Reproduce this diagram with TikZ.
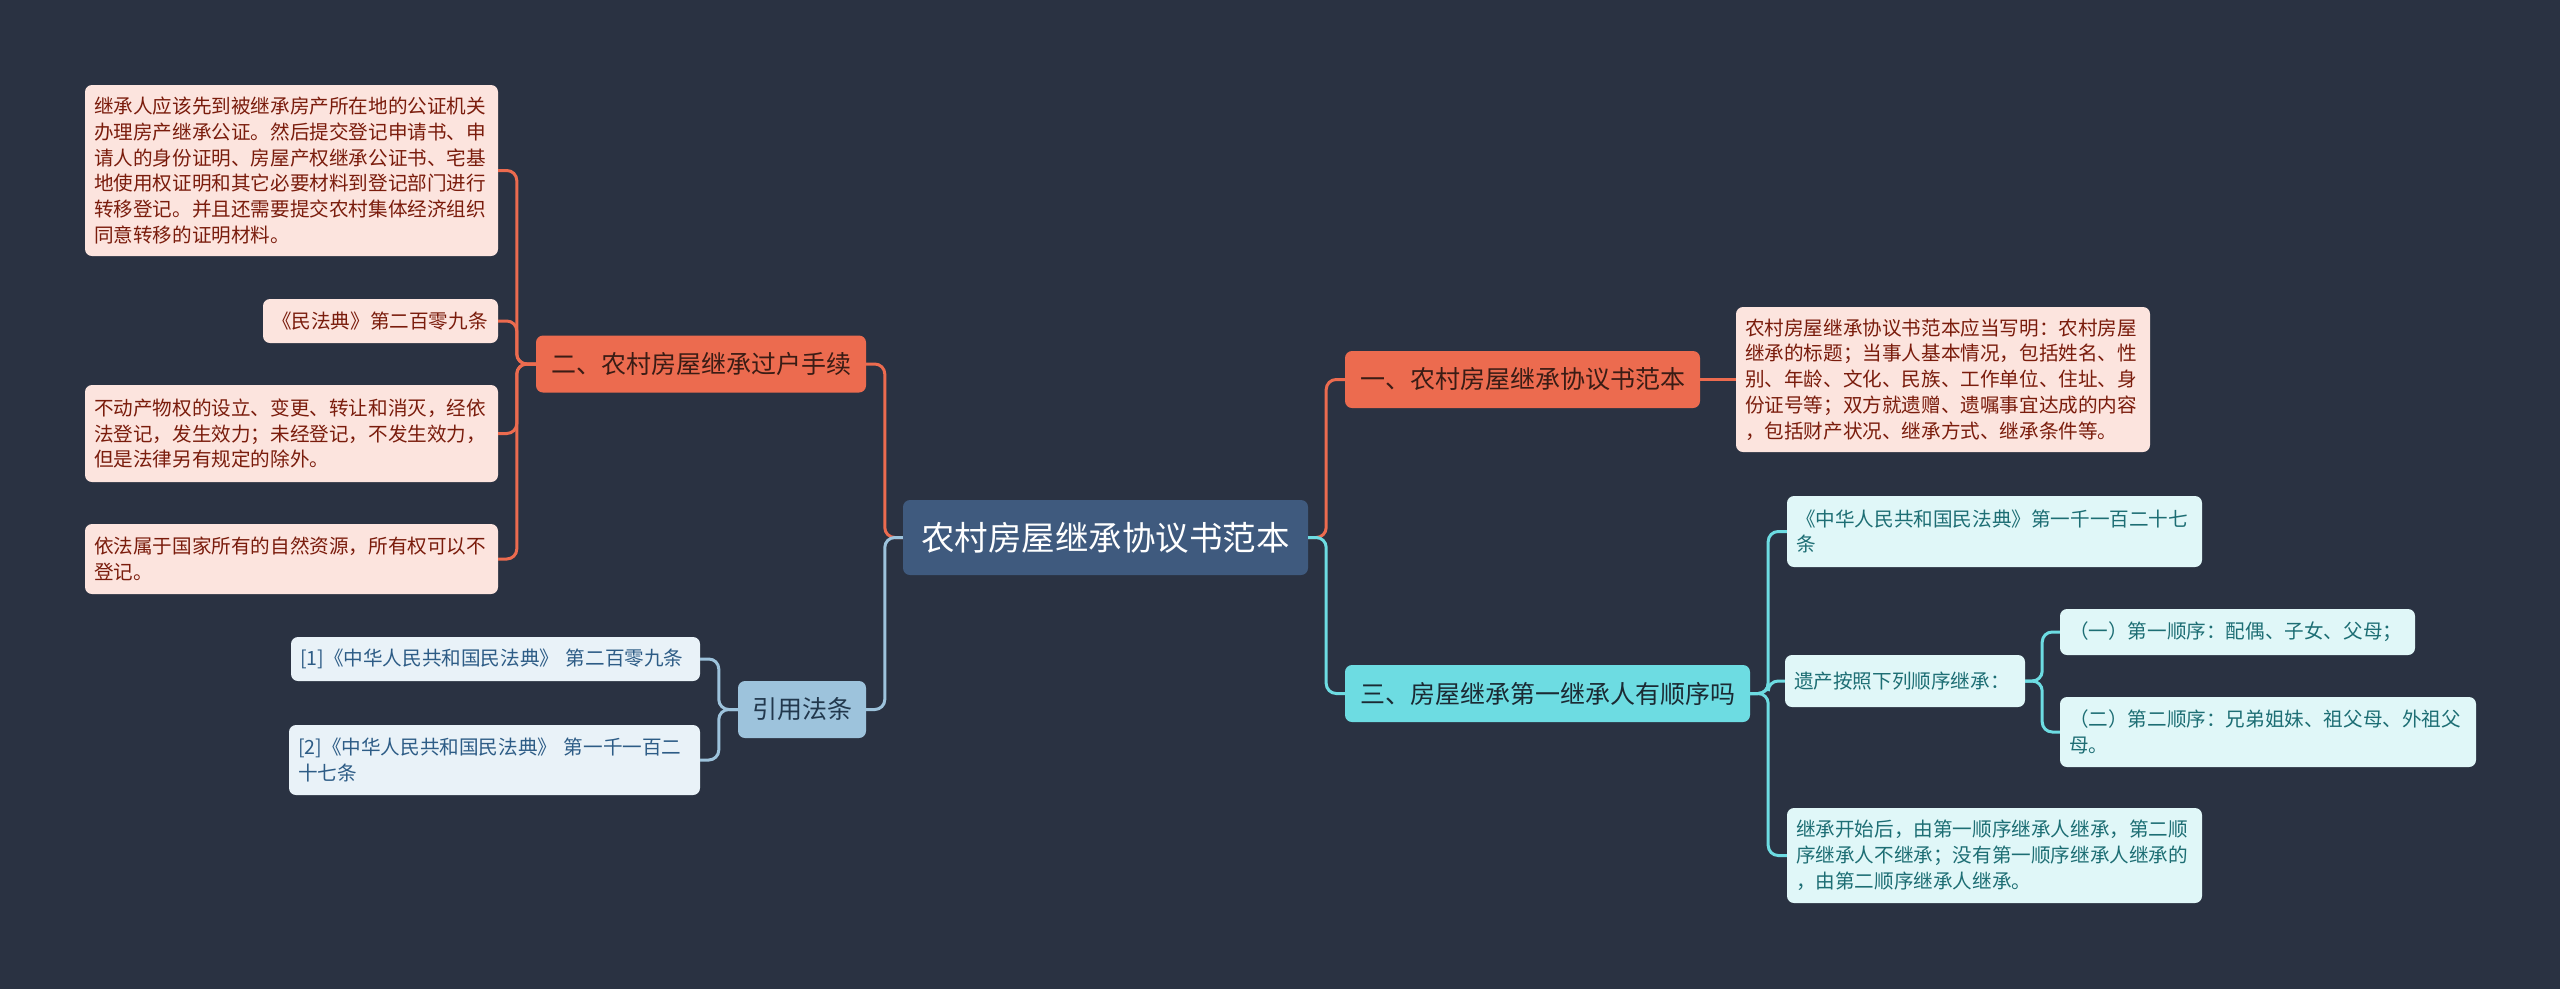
\documentclass[tikz,border=0pt]{standalone}
\usepackage{fontspec}
\usepackage{tikz}
\usetikzlibrary{positioning}
\setmainfont{Noto Sans CJK SC}
\definecolor{night}   {HTML}{2A3242}
\definecolor{slate}   {HTML}{3F5A7E}
\definecolor{coral}   {HTML}{EC6B4F}
\definecolor{coraltxt}{HTML}{3A1C15}
\definecolor{blush}   {HTML}{FCE4DE}
\definecolor{brick}   {HTML}{7A1C0C}
\definecolor{aqua}    {HTML}{6DDCE2}
\definecolor{aquatxt} {HTML}{1B2A33}
\definecolor{mint}    {HTML}{E0F7F8}
\definecolor{teal}    {HTML}{1D6E74}
\definecolor{sky}     {HTML}{9DC3DC}
\definecolor{skytxt}  {HTML}{22384D}
\definecolor{frost}   {HTML}{E9F2F8}
\definecolor{navy}    {HTML}{2D5C86}
\renewcommand{\small}       {\fontsize{19.6}{25.8}\selectfont}
\renewcommand{\large}       {\fontsize{25}{30}\selectfont}
\renewcommand{\Large}       {\fontsize{33.5}{40}\selectfont}

\begin{document}
\begin{tikzpicture}[x=1pt, y=-1pt,
  every node/.style={inner xsep=9pt, inner ysep=0pt, rounded corners=7pt},
  hub/.style={fill=slate, text=white, font=\Large, minimum height=75pt},
  branch/.style={font=\large, minimum height=57pt, inner xsep=0pt},
  leaf/.style={font=\small, align=left},
  link/.style={line width=3pt, rounded corners=10pt}]
  \fill[night] (0,0) rectangle (2560,989);

  % centre
  \node[hub, minimum width=405pt] (root) at (1105.5,537.5) {农村房屋继承协议书范本};

  % right side
  \node[branch, fill=coral, text=coraltxt, minimum width=355pt] (one) at (1522.5,379.5)
    {一、农村房屋继承协议书范本};
  \node[leaf, fill=blush, text=brick, text width=396pt, minimum height=145pt] (oneA) at (1943,379.5)
    {农村房屋继承协议书范本应当写明：农村房屋\\继承的标题；当事人基本情况，包括姓名、性\\别、年龄、文化、民族、工作单位、住址、身\\份证号等；双方就遗赠、遗嘱事宜达成的内容\\，包括财产状况、继承方式、继承条件等。};

  \node[branch, fill=aqua, text=aquatxt, minimum width=405pt] (three) at (1547.5,693.5)
    {三、房屋继承第一继承人有顺序吗};
  \node[leaf, fill=mint, text=teal, text width=397pt, minimum height=71pt] (threeA) at (1994.5,531.5)
    {《中华人民共和国民法典》第一千一百二十七\\条};
  \node[leaf, fill=mint, text=teal, text width=222pt, minimum height=52pt] (threeB) at (1905,681)
    {遗产按照下列顺序继承：};
  \node[leaf, fill=mint, text=teal, text width=337pt, minimum height=46pt] (orderA) at (2237.5,632)
    {（一）第一顺序：配偶、子女、父母；};
  \node[leaf, fill=mint, text=teal, text width=398pt, minimum height=70pt] (orderB) at (2268,732)
    {（二）第二顺序：兄弟姐妹、祖父母、外祖父\\母。};
  \node[leaf, fill=mint, text=teal, text width=397pt, minimum height=95pt] (threeC) at (1994.5,855.5)
    {继承开始后，由第一顺序继承人继承，第二顺\\序继承人不继承；没有第一顺序继承人继承的\\，由第二顺序继承人继承。};

  % left side
  \node[branch, fill=coral, text=coraltxt, minimum width=330pt] (two) at (701,364)
    {二、农村房屋继承过户手续};
  \node[leaf, fill=blush, text=brick, text width=395pt, minimum height=171pt] (twoA) at (291.5,170.5)
    {继承人应该先到被继承房产所在地的公证机关\\办理房产继承公证。然后提交登记申请书、申\\请人的身份证明、房屋产权继承公证书、宅基\\地使用权证明和其它必要材料到登记部门进行\\转移登记。并且还需要提交农村集体经济组织\\同意转移的证明材料。};
  \node[leaf, fill=blush, text=brick, text width=217pt, minimum height=44pt] (twoB) at (380.5,321)
    {《民法典》第二百零九条};
  \node[leaf, fill=blush, text=brick, text width=395pt, minimum height=97pt] (twoC) at (291.5,433.5)
    {不动产物权的设立、变更、转让和消灭，经依\\法登记，发生效力；未经登记，不发生效力，\\但是法律另有规定的除外。};
  \node[leaf, fill=blush, text=brick, text width=395pt, minimum height=70pt] (twoD) at (291.5,559)
    {依法属于国家所有的自然资源，所有权可以不\\登记。};

  \node[branch, fill=sky, text=skytxt, minimum width=128pt] (cite) at (802,709.5) {引用法条};
  \node[leaf, fill=frost, text=navy, text width=391pt, minimum height=44pt] (citeA) at (495.5,659)
    {[1]《中华人民共和国民法典》 第二百零九条};
  \node[leaf, fill=frost, text=navy, text width=393pt, minimum height=70pt] (citeB) at (494.5,760)
    {[2]《中华人民共和国民法典》 第一千一百二\\十七条};

  % links
  \draw[link, coral] (root.east) -- ++(18,0) |- (one.west);
  \draw[link, aqua]  (root.east) -- ++(18,0) |- (three.west);
  \draw[link, coral] (root.west) -- ++(-18,0) |- (two.east);
  \draw[link, sky]   (root.west) -- ++(-18,0) |- (cite.east);
  \draw[link, coral] (one.east) -- (oneA.west);
  \foreach \n in {threeA,threeB,threeC}
    \draw[link, aqua] (three.east) -- ++(18,0) |- (\n.west);
  \foreach \n in {orderA,orderB}
    \draw[link, aqua] (threeB.east) -- ++(17,0) |- (\n.west);
  \foreach \n in {twoA,twoB,twoC,twoD}
    \draw[link, coral] (two.west) -- ++(-19,0) |- (\n.east);
  \foreach \n in {citeA,citeB}
    \draw[link, sky] (cite.west) -- ++(-19,0) |- (\n.east);
\end{tikzpicture}
\end{document}
